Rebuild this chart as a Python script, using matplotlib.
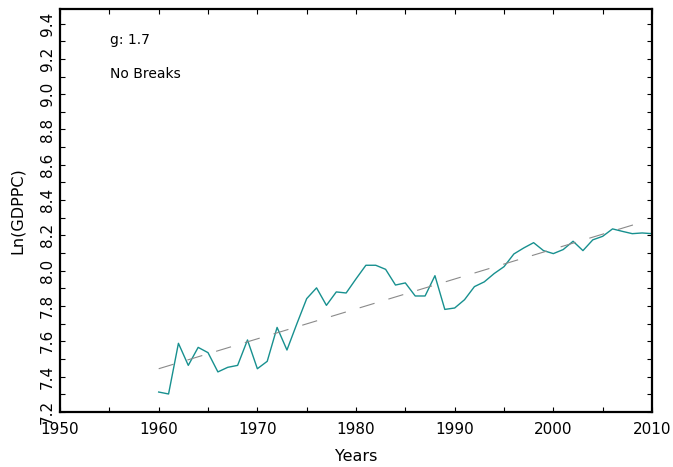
import matplotlib
matplotlib.use("Agg")
from matplotlib import pyplot as plt
from matplotlib.ticker import MultipleLocator
import numpy as np

# Ln(GDP per capita)
years = np.arange(1960, 2011)
ln_gdppc = [7.313, 7.302, 7.589, 7.464, 7.566, 7.536, 7.427, 7.453, 7.464, 7.608,
            7.445, 7.487, 7.679, 7.551, 7.699, 7.842, 7.903, 7.804, 7.880, 7.874,
            7.954, 8.031, 8.031, 8.008, 7.919, 7.931, 7.857, 7.857, 7.972, 7.781,
            7.789, 7.836, 7.910, 7.937, 7.984, 8.023, 8.095, 8.129, 8.159, 8.114,
            8.097, 8.120, 8.167, 8.114, 8.175, 8.195, 8.237, 8.223, 8.210, 8.214,
            8.210]

# linear trend (no breaks)
trend_years = [1960, 2009]
trend_vals = [7.445, 8.275]

growth_label = "g: 1.7"
break_label = "No Breaks"

fig = plt.figure(figsize=(6.73, 4.67), dpi=100)
ax = fig.add_axes([0.0892, 0.1178, 0.8796, 0.862])

ax.plot(years, ln_gdppc, color="#17908f", lw=1.0)
ax.plot(trend_years, trend_vals, color="#8a8a8a", lw=0.8, dashes=(14, 13))

ax.set_xlim(1950, 2010)
ax.set_ylim(7.2, 9.48)
ax.xaxis.set_major_locator(MultipleLocator(10))
ax.xaxis.set_minor_locator(MultipleLocator(5))
ax.yaxis.set_major_locator(MultipleLocator(0.2))
ax.yaxis.set_minor_locator(MultipleLocator(0.1))
ax.yaxis.set_major_formatter(matplotlib.ticker.FormatStrFormatter("%.1f"))

ax.tick_params(which="both", direction="in", length=3.5, width=0.8,
               top=True, right=True, labelsize=11, colors="black")
ax.tick_params(axis="x", pad=7)
for lab in ax.get_yticklabels():
    lab.set_rotation(90)
    lab.set_va("center")

for s in ax.spines.values():
    s.set_linewidth(1.6)

ax.set_xlabel("Years", fontsize=11.5, labelpad=9)
ax.set_ylabel("Ln(GDPPC)", fontsize=11.5, labelpad=11)

ax.text(0.084, 0.924, growth_label, transform=ax.transAxes, fontsize=10, va="center")
ax.text(0.084, 0.840, break_label, transform=ax.transAxes, fontsize=10, va="center")

fig.savefig("out.png", dpi=100)
